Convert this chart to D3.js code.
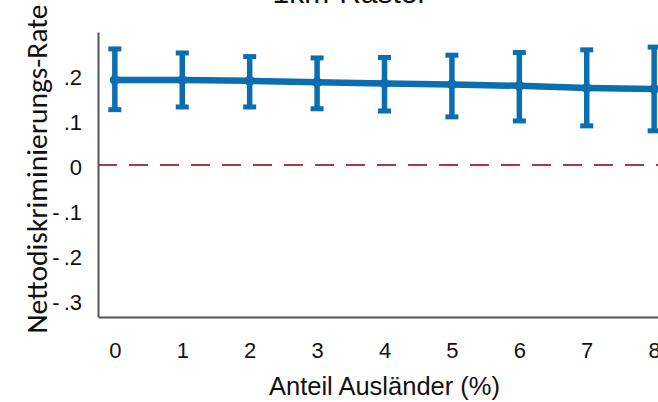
<!DOCTYPE html>
<html lang="en">
<head>
    <meta charset="UTF-8">
    <title>1km-Raster</title>
    <script src="https://cdn.jsdelivr.net/npm/d3@7"></script>
    <style>
        html, body {
            margin: 0;
            padding: 0;
            background: #fff;
            overflow: hidden;
        }
        svg {
            display: block;
            font-family: "Liberation Sans", Arial, sans-serif;
        }
        .axis path {
            stroke: #555;
            stroke-width: 2;
        }
    </style>
</head>
<body>
    <script>
        // share of foreigners (%)
        const shares = [0, 1, 2, 3, 4, 5, 6, 7, 8];
        // net discrimination rate with confidence interval
        const estimate = [0.189, 0.189, 0.187, 0.184, 0.181, 0.179, 0.176, 0.171, 0.169];
        const lower = [0.123, 0.129, 0.129, 0.125, 0.120, 0.107, 0.098, 0.087, 0.076];
        const upper = [0.258, 0.249, 0.241, 0.238, 0.239, 0.244, 0.250, 0.256, 0.262];
        const yTicks = [-0.3, -0.2, -0.1, 0, 0.1, 0.2];

        const w = 658;
        const h = 402;
        const mLeft = 98, mRight = 671, mTop = 32, mBottom = 317;
        const blue = '#0a6eb0';

        const data = shares.map((s, i) => ({ x: s, y: estimate[i], lo: lower[i], hi: upper[i] }));

        const svg = d3.select('body')
            .append('svg')
            .attr('width', w)
            .attr('height', h);

        const xScale = d3.scaleLinear([-0.25, 8.25], [mLeft, mRight]);
        const yScale = d3.scaleLinear([-0.3378, 0.2956], [mBottom, mTop]);

        // stata style: ".2", "-.1", plain hyphen
        const fmt = v => {
            if (Math.abs(v) < 1e-9) return '0';
            const s = Math.abs(v).toFixed(1).replace('0.', '.');
            return v < 0 ? '-' + s : s;
        };

        // title (cut off at the top in the original)
        svg.append('text')
            .attr('x', 350)
            .attr('y', 3)
            .attr('text-anchor', 'middle')
            .attr('font-size', 30)
            .attr('fill', '#111')
            .text('1km-Raster');

        // zero reference line
        svg.append('line')
            .attr('x1', mLeft)
            .attr('x2', w)
            .attr('y1', yScale(0))
            .attr('y2', yScale(0))
            .attr('stroke', '#a8384b')
            .attr('stroke-width', 1.8)
            .attr('stroke-dasharray', '19 12');

        const yAxis = d3.axisLeft(yScale)
            .tickValues(yTicks)
            .tickFormat(fmt)
            .tickSize(0)
            .tickPadding(16);
        const yg = svg.append('g')
            .attr('class', 'axis')
            .attr('transform', `translate(${mLeft}, 0)`)
            .call(yAxis)
            .attr('font-size', 22)
            .attr('font-family', '"Liberation Sans", Arial, sans-serif');
        yg.selectAll('text')
            .attr('fill', '#111')
            .attr('dy', '0.45em');
        // a bit more room after the minus sign, like the original
        yg.selectAll('text')
            .filter(function () { return this.textContent.startsWith('-'); })
            .each(function () {
                const t = d3.select(this);
                const rest = this.textContent.slice(1);
                t.text('');
                t.append('tspan').attr('letter-spacing', 4).text('-');
                t.append('tspan').text(rest);
            });

        const xAxis = d3.axisBottom(xScale)
            .tickValues(shares)
            .tickFormat(d3.format('d'))
            .tickSize(0)
            .tickPadding(25);
        svg.append('g')
            .attr('class', 'axis')
            .attr('transform', `translate(0, ${mBottom})`)
            .call(xAxis)
            .attr('font-size', 22)
            .attr('font-family', '"Liberation Sans", Arial, sans-serif')
            .selectAll('text')
            .attr('fill', '#111');

        // axis titles
        svg.append('text')
            .attr('x', (mLeft + mRight) / 2)
            .attr('y', 395)
            .attr('text-anchor', 'middle')
            .attr('font-size', 25.5)
            .attr('fill', '#111')
            .text('Anteil Ausländer (%)');

        svg.append('text')
            .attr('transform', 'translate(47, 169) rotate(-90)')
            .attr('text-anchor', 'middle')
            .attr('font-family', 'Carlito, Lato, sans-serif')
            .attr('font-size', 29.5)
            .attr('fill', '#111')
            .text('Nettodiskriminierungs-Rate');

        const plot = svg.append('g');

        // confidence intervals
        plot.selectAll('.ci')
            .data(data)
            .enter()
            .append('line')
            .attr('class', 'ci')
            .attr('x1', d => xScale(d.x))
            .attr('x2', d => xScale(d.x))
            .attr('y1', d => yScale(d.lo))
            .attr('y2', d => yScale(d.hi))
            .attr('stroke', blue)
            .attr('stroke-width', 5.5);

        ['lo', 'hi'].forEach(k => {
            plot.selectAll('.cap-' + k)
                .data(data)
                .enter()
                .append('line')
                .attr('class', 'cap-' + k)
                .attr('x1', d => xScale(d.x) - 6.5)
                .attr('x2', d => xScale(d.x) + 6.5)
                .attr('y1', d => yScale(d[k]))
                .attr('y2', d => yScale(d[k]))
                .attr('stroke', blue)
                .attr('stroke-width', 5);
        });

        const line = d3.line()
            .x(d => xScale(d.x))
            .y(d => yScale(d.y));

        plot.append('path')
            .datum(data)
            .attr('d', line)
            .attr('fill', 'none')
            .attr('stroke', blue)
            .attr('stroke-width', 6.5);

        plot.selectAll('circle')
            .data(data)
            .enter()
            .append('circle')
            .attr('cx', d => xScale(d.x))
            .attr('cy', d => yScale(d.y))
            .attr('r', 5)
            .attr('fill', blue);
    </script>
</body>
</html>
